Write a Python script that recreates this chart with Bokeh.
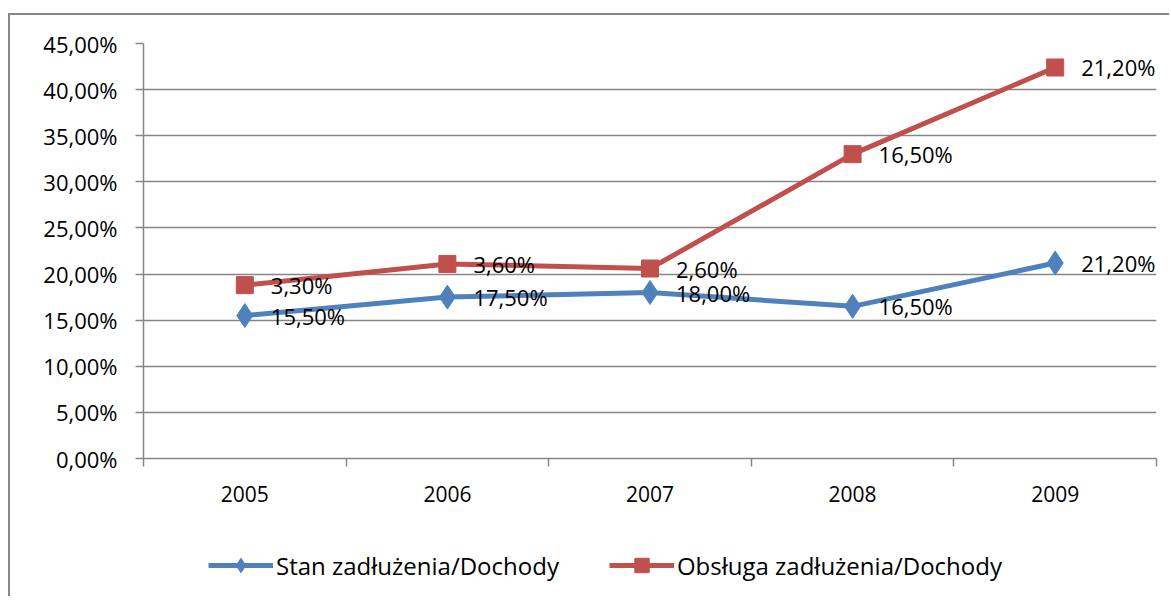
from bokeh.plotting import figure
from bokeh.layouts import column
from bokeh.models import (ColumnDataSource, Range1d, FixedTicker, Legend, LegendItem)
from bokeh.core.properties import value
from bokeh.embed import file_html
from bokeh.resources import INLINE

years = ["2005", "2006", "2007", "2008", "2009"]
stan = [15.5, 17.5, 18.0, 16.5, 21.2]
obsluga = [3.3, 3.6, 2.6, 16.5, 21.2]
y_ticks = [0, 5, 10, 15, 20, 25, 30, 35, 40, 45]
series_names = ["Stan zadłużenia/Dochody", "Obsługa zadłużenia/Dochody"]

FONT = "Open Sans"
GRID = "#868686"
BORDER = "#878787"
BLUE = "#4F81BD"
RED = "#C0504D"

xpos = [i + 0.5 for i in range(len(years))]
stacked = [a + b for a, b in zip(stan, obsluga)]

def fmt(v):
    return f"{v:.2f}".replace(".", ",") + "%"

src = ColumnDataSource(dict(
    x=xpos, stan=stan, red=stacked,
    stan_lbl=[fmt(v) for v in stan],
    obs_lbl=[fmt(v) for v in obsluga],
))

p = figure(width=1161, height=510, output_backend="svg", toolbar_location=None,
           x_range=Range1d(0, len(years)), y_range=Range1d(0, 45),
           min_border_left=133, min_border_right=15, min_border_top=28, min_border_bottom=67)
p.margin = (13, 0, 0, 8)
p.styles = {"border-left": f"2px solid {BORDER}", "border-top": f"2px solid {BORDER}"}
p.outline_line_color = None
p.background_fill_color = "white"
p.border_fill_color = "white"

# x axis
p.xaxis.ticker = FixedTicker(ticks=xpos, minor_ticks=list(range(len(years) + 1)))
p.xaxis.major_label_overrides = {x: y for x, y in zip(xpos, years)}
p.xaxis.major_tick_out = 0
p.xaxis.major_tick_in = 0
p.xaxis.minor_tick_out = 8
p.xaxis.minor_tick_in = 0
p.xaxis.minor_tick_line_color = GRID
p.xaxis.minor_tick_line_width = 1.5
p.xaxis.axis_line_color = GRID
p.xaxis.axis_line_width = 1.5
p.xaxis.major_label_standoff = 19
p.xaxis.major_label_text_font = FONT
p.xaxis.major_label_text_font_size = "21px"
p.xaxis.major_label_text_color = "black"
p.xgrid.grid_line_color = None

# y axis
p.yaxis.ticker = FixedTicker(ticks=y_ticks, minor_ticks=[])
p.yaxis.major_label_overrides = {t: fmt(t) for t in y_ticks}
p.yaxis.major_tick_out = 8
p.yaxis.major_tick_in = 0
p.yaxis.major_tick_line_color = GRID
p.yaxis.major_tick_line_width = 1.5
p.yaxis.axis_line_color = GRID
p.yaxis.axis_line_width = 1.5
p.yaxis.major_label_standoff = 18
p.yaxis.major_label_text_font = FONT
p.yaxis.major_label_text_font_size = "22px"
p.yaxis.major_label_text_color = "black"
p.ygrid.ticker = FixedTicker(ticks=y_ticks)
p.ygrid.grid_line_color = GRID
p.ygrid.grid_line_width = 1.5

# series
p.line("x", "stan", source=src, line_color=BLUE, line_width=5)
p.scatter("x", "stan", source=src, marker="diamond", size=24, fill_color=BLUE, line_color=BLUE)
p.line("x", "red", source=src, line_color=RED, line_width=5)
p.scatter("x", "red", source=src, marker="square", size=17, fill_color=RED, line_color=RED)

p.text("x", "stan", text="stan_lbl", source=src, x_offset=26, text_baseline="middle",
       text_font=value(FONT), text_font_size="22px", text_color="black")
p.text("x", "red", text="obs_lbl", source=src, x_offset=26, text_baseline="middle",
       text_font=value(FONT), text_font_size="22px", text_color="black")

# legend strip (separate figure so the legend is not clipped); its series
# renderers fall outside its own ranges and only serve as legend glyphs
lf = figure(width=1161, height=73, output_backend="svg", toolbar_location=None,
            x_range=Range1d(0, len(years)), y_range=Range1d(-2, -1),
            min_border=0, min_border_left=0, min_border_right=0,
            min_border_top=0, min_border_bottom=0)
lf.margin = (0, 0, 0, 8)
lf.styles = {"border-left": f"2px solid {BORDER}"}
lf.axis.visible = False
lf.grid.visible = False
lf.outline_line_color = None
lf.border_fill_color = "white"
lf.background_fill_color = "white"

lbl = lf.line("x", "stan", source=src, line_color=BLUE, line_width=5)
lbm = lf.scatter("x", "stan", source=src, marker="diamond", size=24, fill_color=BLUE, line_color=BLUE)
lrl = lf.line("x", "red", source=src, line_color=RED, line_width=5)
lrm = lf.scatter("x", "red", source=src, marker="square", size=17, fill_color=RED, line_color=RED)

legend = Legend(items=[
    LegendItem(label=series_names[0], renderers=[lbl, lbm]),
    LegendItem(label=series_names[1], renderers=[lrl, lrm]),
], orientation="horizontal", location=(65, 13))
legend.label_text_font = FONT
legend.label_text_font_size = "24px"
legend.label_text_color = "black"
legend.glyph_width = 65
legend.glyph_height = 36
legend.label_standoff = 3
legend.spacing = 50
legend.padding = 0
legend.margin = 0
legend.border_line_color = None
legend.background_fill_alpha = 0
lf.add_layout(legend)

layout = column(p, lf, spacing=0)
open("out.html", "w").write(file_html(layout, INLINE))
